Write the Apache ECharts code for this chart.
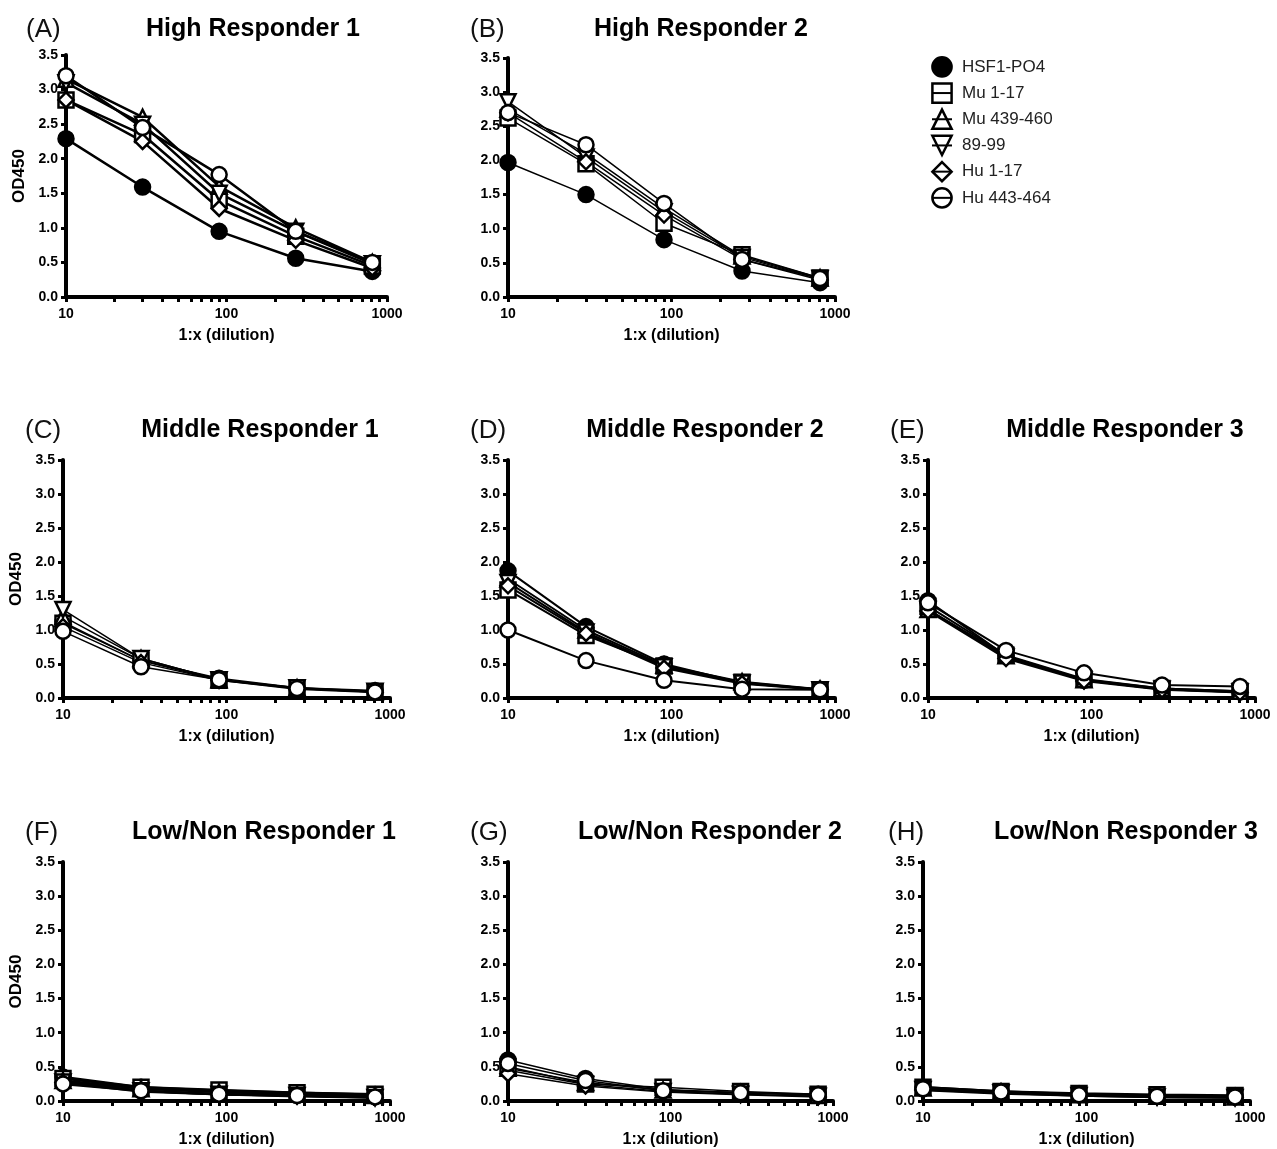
<!DOCTYPE html>
<html>
<head>
<meta charset="utf-8">
<script src="https://cdn.jsdelivr.net/npm/echarts@6/dist/echarts.min.js"></script>
<style>
    html, body { margin: 0; padding: 0; background: #fff; }
    #chart { width: 1277px; height: 1149px; }
</style>
</head>
<body>
<div id="chart"></div>
<script>
// Dilutions (1:x) and OD450 readings
var dilutions   = [10, 30, 90, 270, 810];
var seriesNames = ['HSF1-PO4', 'Mu 1-17', 'Mu 439-460', '89-99', 'Hu 1-17', 'Hu 443-464'];
var panelTitles = ['High Responder 1', 'High Responder 2', 'Middle Responder 1', 'Middle Responder 2',
                   'Middle Responder 3', 'Low/Non Responder 1', 'Low/Non Responder 2', 'Low/Non Responder 3'];
var panelLetters = ['(A)', '(B)', '(C)', '(D)', '(E)', '(F)', '(G)', '(H)'];
var xLabelValues = [10, 100, 1000];
var xTickValues  = [10, 20, 30, 40, 50, 60, 70, 80, 90, 100, 200, 300, 400, 500, 600, 700, 800, 900, 1000];

// one row per series, in seriesNames order
var highResp1 = [
    [2.29, 1.59, 0.95, 0.56, 0.37],
    [2.85, 2.35, 1.40, 0.88, 0.45],
    [3.15, 2.60, 1.60, 1.00, 0.50],
    [3.10, 2.50, 1.50, 0.95, 0.48],
    [2.85, 2.25, 1.28, 0.82, 0.42],
    [3.20, 2.45, 1.77, 0.95, 0.50]
];
var highResp2 = [
    [1.97, 1.50, 0.84, 0.38, 0.21],
    [2.62, 1.95, 1.08, 0.62, 0.28],
    [2.75, 2.10, 1.30, 0.60, 0.28],
    [2.86, 2.05, 1.25, 0.58, 0.27],
    [2.70, 1.98, 1.20, 0.55, 0.25],
    [2.70, 2.23, 1.37, 0.55, 0.27]
];
var midResp1 = [
    [1.12, 0.55, 0.29, 0.15, 0.11],
    [1.10, 0.55, 0.26, 0.14, 0.09],
    [1.20, 0.58, 0.27, 0.15, 0.09],
    [1.30, 0.58, 0.27, 0.15, 0.10],
    [1.05, 0.52, 0.26, 0.13, 0.08],
    [0.98, 0.46, 0.27, 0.14, 0.09]
];
var midResp2 = [
    [1.87, 1.05, 0.50, 0.22, 0.13],
    [1.59, 0.92, 0.47, 0.23, 0.12],
    [1.75, 1.00, 0.48, 0.24, 0.13],
    [1.70, 0.97, 0.46, 0.22, 0.12],
    [1.65, 0.95, 0.44, 0.21, 0.12],
    [1.00, 0.55, 0.26, 0.13, 0.12]
];
var midResp3 = [
    [1.43, 0.62, 0.26, 0.13, 0.09],
    [1.35, 0.63, 0.28, 0.14, 0.10],
    [1.30, 0.62, 0.27, 0.14, 0.10],
    [1.30, 0.60, 0.26, 0.13, 0.09],
    [1.28, 0.58, 0.25, 0.12, 0.08],
    [1.40, 0.70, 0.37, 0.19, 0.17]
];
var lowResp1 = [
    [0.35, 0.20, 0.15, 0.12, 0.09],
    [0.33, 0.20, 0.16, 0.12, 0.10],
    [0.30, 0.18, 0.13, 0.10, 0.08],
    [0.28, 0.15, 0.10, 0.08, 0.05],
    [0.27, 0.14, 0.10, 0.07, 0.05],
    [0.25, 0.15, 0.10, 0.08, 0.06]
];
var lowResp2 = [
    [0.60, 0.33, 0.17, 0.12, 0.10],
    [0.50, 0.25, 0.20, 0.14, 0.10],
    [0.48, 0.27, 0.16, 0.12, 0.08],
    [0.45, 0.24, 0.14, 0.10, 0.07],
    [0.40, 0.22, 0.13, 0.09, 0.06],
    [0.55, 0.30, 0.15, 0.12, 0.09]
];
var lowResp3 = [
    [0.20, 0.14, 0.10, 0.08, 0.07],
    [0.20, 0.14, 0.11, 0.09, 0.08],
    [0.19, 0.13, 0.09, 0.07, 0.06],
    [0.17, 0.12, 0.08, 0.06, 0.05],
    [0.16, 0.11, 0.08, 0.06, 0.05],
    [0.18, 0.13, 0.09, 0.07, 0.06]
];
var panelData = [highResp1, highResp2, midResp1, midResp2, midResp3, lowResp1, lowResp2, lowResp3];

// layout: plot boxes, title centres, letter positions
var layout = [
    { left: 66,  top: 55,  width: 321, height: 242, titleX: 253,  letterX: 26,  titleY: 17,  yName: true,  lw: 2.5 },
    { left: 508, top: 58,  width: 327, height: 239, titleX: 701,  letterX: 470, titleY: 17,  yName: false, lw: 1.5 },
    { left: 63,  top: 460, width: 327, height: 238, titleX: 260,  letterX: 25,  titleY: 418, yName: true,  lw: 1.5 },
    { left: 508, top: 460, width: 327, height: 238, titleX: 705,  letterX: 470, titleY: 418, yName: false, lw: 2 },
    { left: 928, top: 460, width: 327, height: 238, titleX: 1125, letterX: 890, titleY: 418, yName: false, lw: 2 },
    { left: 63,  top: 862, width: 327, height: 240, titleX: 264,  letterX: 25,  titleY: 820, yName: true,  lw: 2.5 },
    { left: 508, top: 862, width: 325, height: 240, titleX: 710,  letterX: 470, titleY: 820, yName: false, lw: 1.5 },
    { left: 923, top: 862, width: 327, height: 240, titleX: 1126, letterX: 888, titleY: 820, yName: false, lw: 2.5 }
];

var symbols = [
    { symbol: 'circle',   rotate: 0,   fill: '#000' },
    { symbol: 'rect',     rotate: 0,   fill: '#fff' },
    { symbol: 'triangle', rotate: 0,   fill: '#fff' },
    { symbol: 'triangle', rotate: 180, fill: '#fff' },
    { symbol: 'diamond',  rotate: 0,   fill: '#fff' },
    { symbol: 'circle',   rotate: 0,   fill: '#fff' }
];

var FONT = '"Liberation Sans", Arial, Helvetica, sans-serif';

var chart = echarts.init(document.getElementById('chart'));

var grid = [], xAxis = [], yAxis = [], series = [], title = [];

layout.forEach(function (p, i) {
    grid.push({ left: p.left, top: p.top, width: p.width, height: p.height, containLabel: false });

    title.push({
        text: panelTitles[i],
        left: p.titleX,
        top: p.titleY,
        textAlign: 'center',
        padding: 0,
        textStyle: { fontFamily: FONT, fontSize: 25, fontWeight: 'bold', color: '#000' }
    });
    title.push({
        text: panelLetters[i],
        left: p.letterX,
        top: p.titleY,
        padding: 0,
        textStyle: { fontFamily: FONT, fontSize: 26, fontWeight: 'normal', color: '#111' }
    });

    xAxis.push({
        type: 'log',
        logBase: 10,
        gridIndex: i,
        min: 10,
        max: 1000,
        name: '1:x (dilution)',
        nameLocation: 'middle',
        nameGap: 31,
        nameTextStyle: { fontFamily: FONT, fontSize: 16, fontWeight: 'bold', color: '#000' },
        axisLine: { show: true, onZero: false, lineStyle: { color: '#000', width: 4 } },
        axisTick: { show: true, length: 5, customValues: xTickValues, lineStyle: { color: '#000', width: 3 } },
        axisLabel: {
            fontFamily: FONT, fontSize: 14, fontWeight: 'bold', color: '#000', margin: 10,
            customValues: xLabelValues,
            formatter: function (v) { return String(Math.round(v)); }
        },
        splitLine: { show: false }
    });

    yAxis.push({
        type: 'value',
        gridIndex: i,
        min: 0,
        max: 3.5,
        interval: 0.5,
        name: p.yName ? 'OD450' : '',
        nameLocation: 'middle',
        nameGap: 38,
        nameTextStyle: { fontFamily: FONT, fontSize: 17, fontWeight: 'bold', color: '#000' },
        axisLine: { show: true, onZero: false, lineStyle: { color: '#000', width: 4 } },
        axisTick: { show: true, length: 5, lineStyle: { color: '#000', width: 3 } },
        axisLabel: {
            fontFamily: FONT, fontSize: 14, fontWeight: 'bold', color: '#000', margin: 8,
            formatter: function (v) { return v.toFixed(1); }
        },
        splitLine: { show: false }
    });

    panelData[i].forEach(function (vals, s) {
        var sym = symbols[s];
        series.push({
            type: 'line',
            name: seriesNames[s],
            xAxisIndex: i,
            yAxisIndex: i,
            clip: false,
            data: dilutions.map(function (d, k) { return [d, vals[k]]; }),
            symbol: sym.symbol,
            symbolRotate: sym.rotate,
            symbolSize: 15,
            showAllSymbol: true,
            lineStyle: { color: '#000', width: p.lw },
            itemStyle: { color: sym.fill, borderColor: '#000', borderWidth: 2.5 },
            emphasis: { disabled: true },
            z: 3
        });
    });
});

chart.setOption({
    backgroundColor: '#fff',
    animation: false,
    title: title,
    legend: {
        orient: 'vertical',
        left: 926,
        top: 51,
        itemWidth: 20,
        itemHeight: 24,
        itemGap: 4.5,
        selectedMode: false,
        textStyle: { fontFamily: FONT, fontSize: 17, color: '#222', padding: [0, 0, 0, 5] },
        data: seriesNames.map(function (n, s) {
            return {
                name: n,
                itemStyle: { color: s === 0 ? '#000' : 'rgba(0,0,0,0)', borderColor: '#000', borderWidth: 2.5 }
            };
        })
    },
    grid: grid,
    xAxis: xAxis,
    yAxis: yAxis,
    series: series
});
</script>
</body>
</html>
